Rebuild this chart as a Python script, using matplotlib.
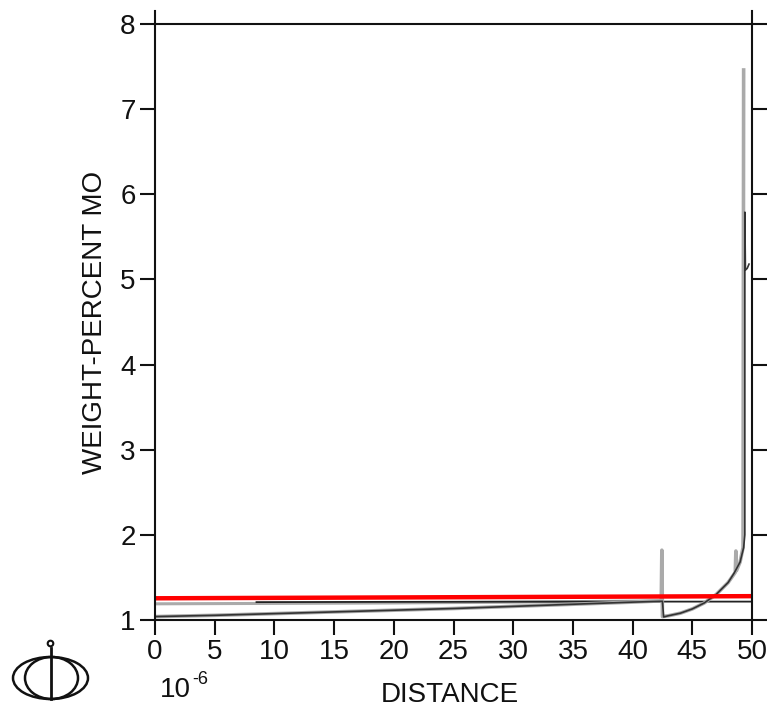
import matplotlib
matplotlib.use("Agg")
import matplotlib.pyplot as plt
from matplotlib.patches import Ellipse, Circle

plt.rcParams['font.family'] = ['Liberation Sans', 'DejaVu Sans']

# ---- data (distance in 1e-6 m, weight-percent Mo) ----
red_x = [0, 50]
red_y = [1.255, 1.28]

gray_flat_x = [0, 10, 20, 30, 42.5]
gray_flat_y = [1.19, 1.195, 1.20, 1.21, 1.225]

black_flat_x = [8.5, 20, 30, 42.6, 50]
black_flat_y = [1.21, 1.213, 1.215, 1.216, 1.216]

gray_x = [0, 5, 10, 15, 20, 25, 30, 35, 40, 42.4, 42.45, 42.5, 43, 44, 45, 46, 47, 48,
          48.6, 48.65, 48.7, 49.0, 49.25, 49.3]
gray_y = [1.04, 1.055, 1.075, 1.095, 1.115, 1.135, 1.16, 1.185, 1.21, 1.225, 1.82, 1.04,
          1.05, 1.08, 1.13, 1.2, 1.3, 1.44, 1.56, 1.81, 1.58, 1.68, 1.85, 7.46]

black_x = [0, 5, 10, 15, 20, 25, 30, 35, 40, 42.5, 42.6, 43, 44, 45, 46, 47, 48, 48.5,
           49.0, 49.3, 49.4, 49.4, 49.45, 49.6, 49.75]
black_y = [1.04, 1.055, 1.075, 1.095, 1.115, 1.135, 1.16, 1.185, 1.21, 1.22, 1.036, 1.05,
           1.08, 1.13, 1.2, 1.3, 1.44, 1.55, 1.68, 1.85, 2.0, 5.79, 5.11, 5.13, 5.18]

xticks = [0, 5, 10, 15, 20, 25, 30, 35, 40, 45, 50]
yticks = [1, 2, 3, 4, 5, 6, 7, 8]

W, H = 770, 712
fig = plt.figure(figsize=(W / 100, H / 100), dpi=100)
ax = fig.add_axes([155 / W, (H - 620) / H, 597 / W, 596 / H])

ax.plot(gray_flat_x, gray_flat_y, color='#aaaaaa', lw=2.2, solid_capstyle='butt')
ax.plot(black_flat_x, black_flat_y, color='#222222', lw=1.3)
ax.plot(gray_x, gray_y, color='#aaaaaa', lw=2.6)
ax.plot(black_x, black_y, color='#333333', lw=1.2)
ax.plot(red_x, red_y, color='#ff0000', lw=3.2, solid_capstyle='butt')

ax.set_xlim(0, 50)
ax.set_ylim(1, 8)
ax.set_xticks(xticks)
ax.set_yticks(yticks)
ax.tick_params(axis='both', direction='out', length=11, width=1.5, labelsize=20,
               colors='#111111', pad=3)
ax.tick_params(axis='y', right=True, left=True)
for s in ax.spines.values():
    s.set_linewidth(1.5)
    s.set_color('#111111')

# small extensions of the frame at the top corners
for xv in (0, 50):
    ax.plot([xv, xv], [8, 8.15], color='#111111', lw=1.5, clip_on=False)

ax.set_ylabel('WEIGHT-PERCENT MO', fontsize=20, labelpad=9, color='#111111')
fig.text(450 / W, 1 - 695 / H, 'DISTANCE', fontsize=20, ha='center', va='center',
         color='#111111')
fig.text(160 / W, 1 - 690 / H, '10', fontsize=20, ha='left', va='center', color='#111111')
fig.text(192 / W, 1 - 679 / H, '-6', fontsize=13, ha='left', va='center', color='#111111')

# logo
lax = fig.add_axes([0, 0, 120 / W, 90 / H])
lax.set_xlim(0, 120)
lax.set_ylim(712, 622)
lax.axis('off')
lax.add_patch(Ellipse((50.5, 678), 75, 42, fill=False, lw=1.8, ec='#111111'))
lax.add_patch(Ellipse((51.5, 678), 53, 42, fill=False, lw=1.8, ec='#111111'))
lax.plot([50.5, 50.5], [648, 699], color='#111111', lw=2)
lax.add_patch(Circle((50.5, 643.5), 2.8, fill=False, lw=1.5, ec='#111111'))

fig.savefig('out.png', dpi=100)
